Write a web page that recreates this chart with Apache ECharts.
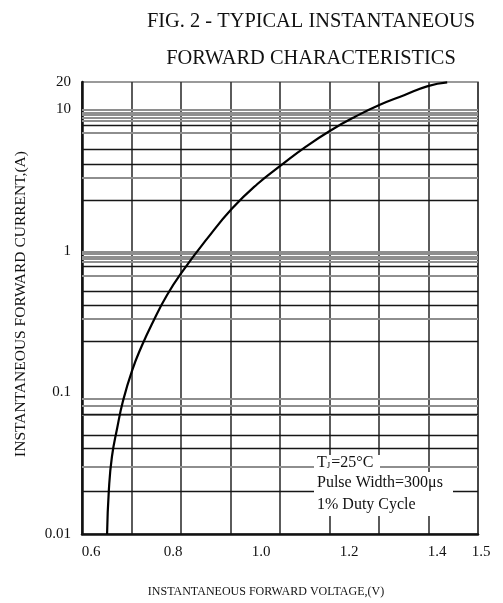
<!DOCTYPE html>
<html><head><meta charset="utf-8">
<script src="https://cdn.jsdelivr.net/npm/echarts@6/dist/echarts.min.js"></script>
<style>html,body{margin:0;padding:0;background:#fff}#c{width:503px;height:603px}</style>
</head><body><div id="c"></div>
<script>
// Curve: instantaneous forward voltage (V) vs forward current (A)
const curveVoltage = [0.657, 0.661, 0.668, 0.680, 0.693, 0.714, 0.736, 0.759, 0.793, 0.830, 0.884, 0.941, 0.998, 1.055, 1.109, 1.164, 1.220, 1.277, 1.332, 1.386, 1.430];
const curveCurrent = [0.0100, 0.0203, 0.0351, 0.0560, 0.0865, 0.143, 0.213, 0.304, 0.484, 0.725, 1.21, 1.98, 2.94, 4.06, 5.42, 7.02, 8.79, 10.7, 12.5, 14.5, 15.4];

// Axes
const xMin = 0.6, xMax = 1.5;
const xTickValues = [0.6, 0.8, 1.0, 1.2, 1.4, 1.5];
const xTickLabels = ['0.6', '0.8', '1.0', '1.2', '1.4', '1.5'];
const xGridDivisions = 8;
const yMin = 0.01, yMax = 15.5;
const yTickValues = [0.01, 0.1, 1, 10, 15.5];
const yTickLabels = ['0.01', '0.1', '1', '10', '20'];

// Horizontal grid lines of the log paper (values in A)
const lightGridLines = [9.85, 9.43, 9.04, 8.61, 8.28, 6.76, 3.27, 0.995, 0.953, 0.912, 0.869, 0.833, 0.665, 0.325, 0.0948, 0.0898, 0.0851, 0.0807, 0.0650, 0.0316];
const darkGridLines = [7.73, 5.17, 4.10, 2.25, 0.769, 0.519, 0.407, 0.226, 0.0736, 0.0500, 0.0396, 0.0217];

const SERIF = "'Liberation Serif', 'Times New Roman', serif";
const chart = echarts.init(document.getElementById('c'), null, {renderer: 'canvas'});

function indexOfValue(values, v) {
  for (let i = 0; i < values.length; i++) if (Math.abs(values[i] - v) < 1e-9 * Math.max(1, Math.abs(v))) return i;
  return -1;
}
const tickFont = {fontFamily: SERIF, fontSize: 15, color: '#111'};

const option = {
  backgroundColor: '#fff',
  animation: false,
  title: {
    text: 'FIG. 2 - TYPICAL INSTANTANEOUS\nFORWARD CHARACTERISTICS',
    left: 306, textAlign: 'center',
    top: -2,
    textStyle: {fontFamily: SERIF, fontSize: 20.4, fontWeight: 'normal', color: '#111', lineHeight: 37}
  },
  grid: {left: 82, right: 25, top: 82, bottom: 65, show: true, borderColor: '#7a7a7a', borderWidth: 1.5, backgroundColor: 'transparent'},
  xAxis: [{
    type: 'value', min: xMin, max: xMax, position: 'bottom',
    name: 'INSTANTANEOUS FORWARD VOLTAGE,(V)', nameLocation: 'middle', nameGap: 52,
    nameTextStyle: {fontFamily: SERIF, fontSize: 12, color: '#111', padding: [0, 28, 0, 0]},
    axisLine: {show: true, onZero: false, lineStyle: {color: '#111', width: 2.5}},
    axisTick: {show: false}, splitLine: {show: false},
    axisLabel: {customValues: xTickValues,
      formatter: v => { const i = indexOfValue(xTickValues, v); return i < 0 ? '' : (i === 0 ? '{f|' : '{o|') + xTickLabels[i] + '}'; },
      rich: {f: Object.assign({padding: [0, 0, 0, 18]}, tickFont), o: Object.assign({padding: [0, 0, 0, 6]}, tickFont)},
      fontFamily: SERIF, fontSize: 15, color: '#111', margin: 11}
  }, {
    type: 'value', min: 0, max: xGridDivisions, interval: 1, position: 'bottom',
    axisLine: {show: false}, axisTick: {show: false}, axisLabel: {show: false},
    splitLine: {show: true, lineStyle: {color: '#333', width: 1.6}}
  }],
  yAxis: {
    type: 'log', logBase: 10, min: yMin, max: yMax,
    name: 'INSTANTANEOUS FORWARD CURRENT,(A)', nameLocation: 'middle', nameGap: 53, nameRotate: 90,
    nameTextStyle: {fontFamily: SERIF, fontSize: 15.5, color: '#111', padding: [0, 0, 0, 8]},
    axisLine: {show: true, onZero: false, lineStyle: {color: '#111', width: 2.5}},
    axisTick: {show: false}, splitLine: {show: false}, minorSplitLine: {show: false},
    axisLabel: {customValues: yTickValues, formatter: v => { const i = indexOfValue(yTickValues, v); return i < 0 ? '' : yTickLabels[i]; },
      fontFamily: SERIF, fontSize: 15, color: '#111', margin: 11}
  },
  series: [{
    type: 'line', data: [], silent: true, z: 3,
    markLine: {silent: true, symbol: 'none', animation: false, label: {show: false},
      lineStyle: {color: '#8e8e8e', width: 2, type: 'solid'},
      data: lightGridLines.map(v => ({yAxis: v}))}
  }, {
    type: 'line', data: [], silent: true, z: 4,
    markLine: {silent: true, symbol: 'none', animation: false, label: {show: false},
      lineStyle: {color: '#161616', width: 1.3, type: 'solid'},
      data: darkGridLines.map(v => ({yAxis: v}))}
  }, {
    type: 'line', z: 10, smooth: 0.5, symbol: 'none', clip: true,
    lineStyle: {color: '#000', width: 2.2},
    data: curveVoltage.map((v, i) => [v, curveCurrent[i]])
  }],
  graphic: [
    {type: 'rect', z: 50, shape: {x: 314, y: 455, width: 66, height: 17}, style: {fill: '#fff'}},
    {type: 'rect', z: 50, shape: {x: 314, y: 472, width: 139, height: 44}, style: {fill: '#fff'}},
    {type: 'text', z: 51, x: 317, y: 463, style: {text: 'T{s|J}=25°C', fontFamily: SERIF, fontSize: 16, fill: '#111', verticalAlign: 'middle',
      rich: {s: {fontFamily: SERIF, fontSize: 9, fill: '#111', padding: [6, 1, 0, 0]}}}},
    {type: 'text', z: 51, x: 317, y: 483, style: {text: 'Pulse Width=300μs', fontFamily: SERIF, fontSize: 16, fill: '#111', verticalAlign: 'middle'}},
    {type: 'text', z: 51, x: 317, y: 505, style: {text: '1% Duty Cycle', fontFamily: SERIF, fontSize: 16, fill: '#111', verticalAlign: 'middle'}}
  ]
};
chart.setOption(option);
</script></body></html>
